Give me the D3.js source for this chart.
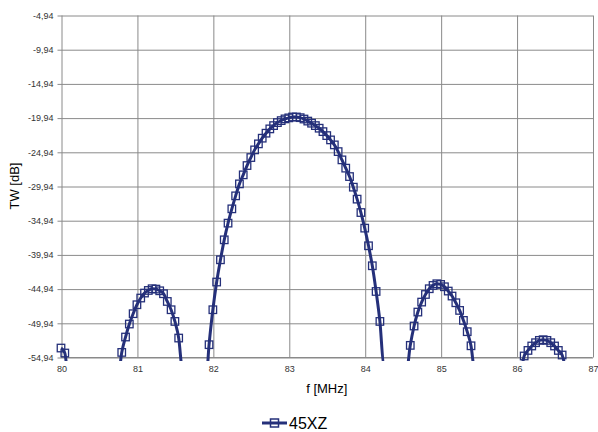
<!DOCTYPE html>
<html>
<head>
<meta charset="utf-8">
<script src="https://cdn.jsdelivr.net/npm/d3@7"></script>
<style>
    body { margin: 0; background: #fff; }
    svg { display: block; font-family: "Liberation Sans", Arial, sans-serif; }
</style>
</head>
<body>
<div id="chart"></div>
<script>
// measured series (f in MHz, TW in dB); points below -54,94 only steer the line off the plot
const freqMHz = [
    80.00, 80.05, 80.10,
    80.75, 80.80, 80.85, 80.90, 80.95, 81.00, 81.05, 81.10, 81.15, 81.20, 81.25,
    81.30, 81.35, 81.40, 81.45, 81.50, 81.55, 81.60,
    81.90, 81.95, 82.00, 82.05, 82.10, 82.15, 82.20, 82.25, 82.30, 82.35, 82.40,
    82.45, 82.50, 82.55, 82.60, 82.65, 82.70, 82.75, 82.80, 82.85, 82.90, 82.95,
    83.00, 83.05, 83.10, 83.15, 83.20, 83.25, 83.30, 83.35, 83.40, 83.45, 83.50,
    83.55, 83.60, 83.65, 83.70, 83.75, 83.80, 83.85, 83.90, 83.95, 84.00, 84.05,
    84.10, 84.15, 84.20, 84.25,
    84.55, 84.60, 84.65, 84.70, 84.75, 84.80, 84.85, 84.90, 84.95, 85.00, 85.05,
    85.10, 85.15, 85.20, 85.25, 85.30, 85.35, 85.40, 85.45,
    86.05, 86.10, 86.15, 86.20, 86.25, 86.30, 86.35, 86.40, 86.45, 86.50, 86.55,
    86.60, 86.65
];

const twDb = [
    -53.63, -54.36, -58.0,
    -58.0, -54.27, -52.02, -50.12, -48.61, -47.30, -46.32, -45.59, -45.21, -44.96, -45.01,
    -45.26, -45.69, -46.82, -48.03, -49.74, -52.17, -57.0,
    -60.0, -53.14, -48.03, -43.98, -40.73, -37.81, -35.37, -33.28, -31.38, -29.63, -28.31,
    -26.95, -25.78, -24.66, -23.78, -22.95, -22.22, -21.59, -21.11, -20.67, -20.38, -20.13,
    -19.98, -19.85, -19.85, -19.95, -20.15, -20.45, -20.76, -21.11, -21.49, -21.99, -22.57,
    -23.20, -23.93, -24.91, -26.12, -27.33, -28.56, -30.11, -31.86, -33.82, -36.10, -38.68,
    -41.60, -45.36, -49.74, -56.0,
    -57.0, -53.24, -50.41, -48.37, -46.91, -45.80, -44.96, -44.48, -44.23, -44.33, -44.67,
    -45.30, -46.03, -47.01, -48.13, -49.59, -51.24, -53.30, -57.0,
    -57.0, -54.79, -53.98, -53.33, -52.85, -52.51, -52.41, -52.51, -52.85, -53.33, -53.98,
    -54.65, -57.0
];

const xTicks = [80, 81, 82, 83, 84, 85, 86, 87];
const yTicks = [-54.94, -49.94, -44.94, -39.94, -34.94, -29.94, -24.94, -19.94, -14.94, -9.94, -4.94];

const seriesName = "45XZ";
const xTitle = "f [MHz]";
const yTitle = "TW [dB]";

var Chart = (() => {

    let svg = {
            width: 598,
            height: 432,
            margin: {
                top: 15,
                right: 5,
                bottom: 75,
                left: 61
            }
        },
        navy = "#25307a",
        grid = "#8a8a8a",
        xScale, yScale;

    function formatData() {
        return freqMHz.map((f, i) => ({ f: f, v: twDb[i] }));
    }

    function scaleData() {
        xScale = d3.scaleLinear()
            .domain([80, 87])
            .range([svg.margin.left, svg.width - svg.margin.right - 0.5]);

        yScale = d3.scaleLinear()
            .domain([-54.94, -4.94])
            .range([svg.height - svg.margin.bottom, svg.margin.top]);
    }

    function plotData(data) {
        // plain hyphen and decimal comma, like the original labels
        const fmt = d => d.toFixed(2).replace(".", ",");
        const x0 = xScale(80), x1 = xScale(87),
            y0 = yScale(-54.94), y1 = yScale(-4.94);

        const chart = d3.select("#chart")
            .append("svg")
            .attr("width", svg.width)
            .attr("height", svg.height);

        chart.append("defs").append("clipPath")
            .attr("id", "plotClip")
            .append("rect")
            .attr("x", x0)
            .attr("y", y1)
            .attr("width", x1 - x0)
            .attr("height", y0 - y1 + 4);

        // y axis with gridlines
        chart.append("g")
            .attr("class", "axis y")
            .attr("transform", `translate(${Math.round(x0) + 0.5}, 0.5)`)
            .call(d3.axisLeft(yScale)
                .tickValues(yTicks)
                .tickFormat(fmt)
                .tickSize(-(x1 - x0))
                .tickPadding(8))
            .call(g => g.select(".domain").remove())
            .call(g => g.selectAll(".tick line").attr("stroke", grid).attr("x1", -4))
            .call(g => g.selectAll(".tick text")
                .attr("fill", "#333")
                .attr("font-size", 9)
                .attr("font-family", "Liberation Sans, Arial, sans-serif"));

        // x axis with gridlines
        chart.append("g")
            .attr("class", "axis x")
            .attr("transform", `translate(0.5, ${Math.round(y0) + 0.5})`)
            .call(d3.axisBottom(xScale)
                .tickValues(xTicks)
                .tickFormat(d3.format("d"))
                .tickSize(-(y0 - y1))
                .tickPadding(8))
            .call(g => g.select(".domain").remove())
            .call(g => g.selectAll(".tick line").attr("stroke", grid))
            .call(g => g.selectAll(".tick text")
                .attr("fill", "#333")
                .attr("font-size", 9)
                .attr("font-family", "Liberation Sans, Arial, sans-serif"));

        // bottom axis line
        chart.append("line")
            .attr("x1", x0).attr("x2", x1)
            .attr("y1", Math.round(y0) + 0.5).attr("y2", Math.round(y0) + 0.5)
            .attr("stroke", grid);

        const line = d3.line()
            .x(d => xScale(d.f))
            .y(d => yScale(d.v))
            .curve(d3.curveMonotoneX);

        chart.append("path")
            .datum(data)
            .attr("clip-path", "url(#plotClip)")
            .attr("fill", "none")
            .attr("stroke", navy)
            .attr("stroke-width", 3)
            .attr("stroke-linejoin", "round")
            .attr("d", line);

        chart.append("g")
            .attr("class", "marks")
            .selectAll("rect.point")
            .data(data.filter(d => d.v >= -54.94))
            .join("rect")
            .attr("class", "point")
            .attr("x", d => xScale(d.f) - 3.75)
            .attr("y", d => yScale(d.v) - 3.75)
            .attr("width", 7.5)
            .attr("height", 7.5)
            .attr("fill", "none")
            .attr("stroke", navy)
            .attr("stroke-width", 1.3);

        // axis titles
        chart.append("text")
            .attr("x", (x0 + x1) / 2)
            .attr("y", 393)
            .attr("text-anchor", "middle")
            .attr("font-size", 13)
            .attr("fill", "#000")
            .text(xTitle);

        chart.append("text")
            .attr("transform", `translate(19, ${(y0 + y1) / 2}) rotate(-90)`)
            .attr("text-anchor", "middle")
            .attr("font-size", 13)
            .attr("fill", "#000")
            .text(yTitle);

        // legend
        const legend = chart.append("g")
            .attr("class", "legend")
            .attr("transform", "translate(262, 423)");

        legend.append("line")
            .attr("x1", 0).attr("x2", 25)
            .attr("stroke", navy)
            .attr("stroke-width", 3);

        legend.append("rect")
            .attr("x", 8.5).attr("y", -4)
            .attr("width", 8).attr("height", 8)
            .attr("fill", "none")
            .attr("stroke", navy)
            .attr("stroke-width", 1.5);

        legend.append("text")
            .attr("x", 27)
            .attr("y", 5.5)
            .attr("font-size", 16)
            .attr("fill", "#000")
            .text(seriesName);
    }

    return {
        svg,
        formatData,
        scaleData,
        plotData
    }

})();

(() => {
    const data = Chart.formatData();
    Chart.scaleData();
    Chart.plotData(data);
})();
</script>
</body>
</html>
